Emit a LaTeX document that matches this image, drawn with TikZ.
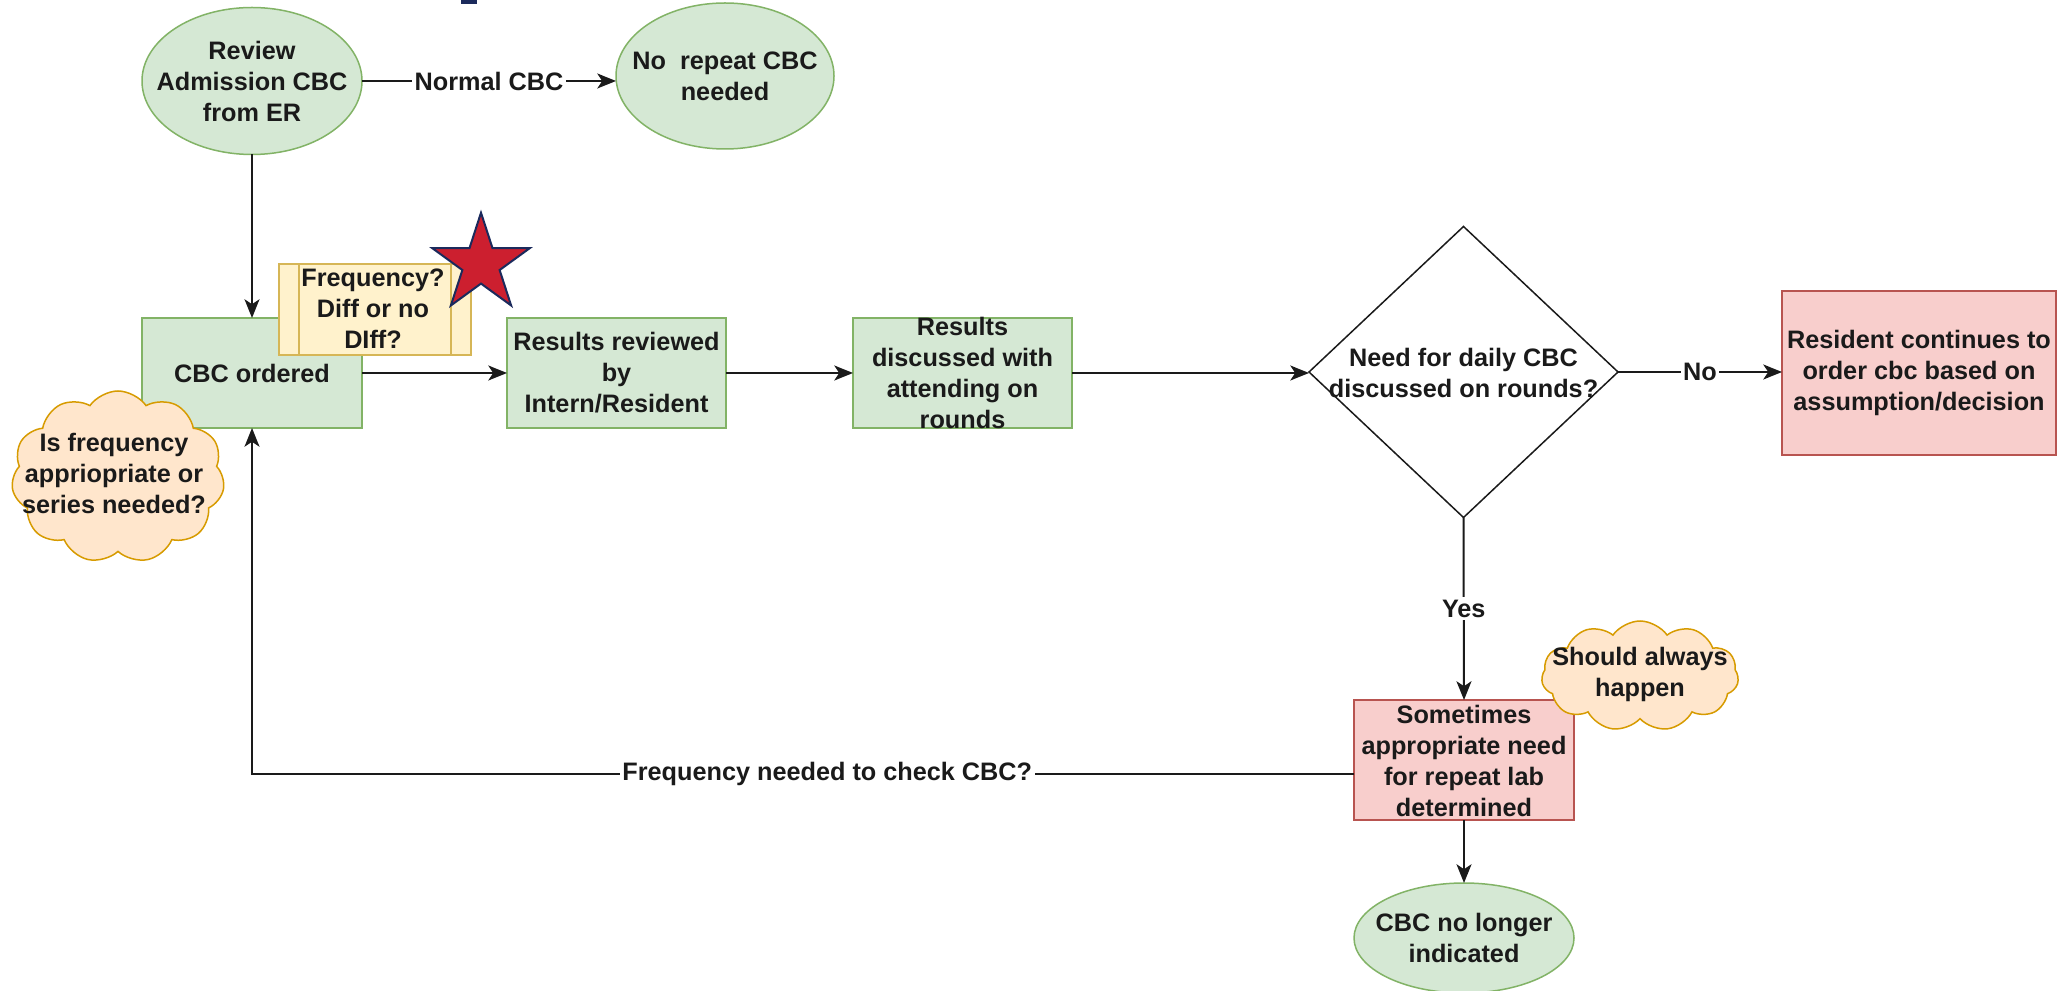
\documentclass[tikz,border=0pt]{standalone}
\usepackage{fontspec}
\setmainfont{Liberation Sans}
\usetikzlibrary{shapes.geometric,shapes.symbols,arrows.meta,calc}
\definecolor{gfill}{HTML}{D5E8D4}
\definecolor{gline}{HTML}{82B366}
\definecolor{rfill}{HTML}{F8CECC}
\definecolor{rline}{HTML}{B85450}
\definecolor{yfill}{HTML}{FFF2CC}
\definecolor{yline}{HTML}{D6B656}
\definecolor{ofill}{HTML}{FFE6CC}
\definecolor{oline}{HTML}{D79B00}
\definecolor{starred}{HTML}{CC1F2F}
\definecolor{navy}{HTML}{1B2A5C}
\definecolor{ink}{HTML}{1A1A1A}
\begin{document}
\begin{tikzpicture}[x=0.4pt,y=-0.4pt,
  font=\fontsize{10.1}{12.4}\selectfont\bfseries,
  shp/.style={inner sep=0pt, outer sep=0pt, line width=0.6pt},
  gbox/.style={shp, rectangle, draw=gline, fill=gfill},
  rbox/.style={shp, rectangle, draw=rline, fill=rfill},
  ybox/.style={shp, rectangle, draw=yline, fill=yfill},
  gell/.style={shp, ellipse, draw=gline, fill=gfill},
  ocloud/.style={shp, cloud, cloud puffs=11, cloud puff arc=110, cloud ignores aspect, draw=oline, fill=ofill},
  decbox/.style={shp, diamond, draw=ink, fill=white},
  starshape/.style={shp, star, star points=5, star point ratio=2.618, draw=navy, fill=starred, line width=0.8pt},
  txt/.style={align=center, inner sep=0pt, text=ink},
  lbl/.style={fill=white, inner sep=1pt, text=ink},
  arr/.style={draw=ink, line width=0.8pt, -{Stealth[length=7.5pt,width=6pt,inset=2pt]}}
]
\fill[white] (0,0) rectangle (2064,991);
\useasboundingbox (0,0) rectangle (2064,991);
% title fragment at top edge
\fill[navy] (461,0) rectangle (477,4);

% shapes
\node[gell, minimum width=88pt, minimum height=58.8pt] (review) at (252,81) {};
\node[gell, minimum width=87.2pt, minimum height=58.4pt] (norep) at (725,76) {};
\node[gbox, minimum width=88pt, minimum height=44pt] (cbc) at (252,373) {};
\node[gbox, minimum width=87.6pt, minimum height=44pt] (rev) at (616.5,373) {};
\node[gbox, minimum width=87.6pt, minimum height=44pt] (disc) at (962.5,373) {};
\node[decbox, minimum width=123.6pt, minimum height=116.4pt] (dec) at (1463.5,372) {};
\node[rbox, minimum width=109.6pt, minimum height=65.6pt] (res) at (1919,373) {};
\node[rbox, minimum width=88pt, minimum height=48pt] (some) at (1464,760) {};
\node[gell, minimum width=88pt, minimum height=44pt] (nolonger) at (1464,938) {};
\node[ybox, minimum width=76.8pt, minimum height=36.4pt] (note) at (375,309.5) {};
\draw[yline, line width=0.6pt] ([xshift=8pt]note.north west) -- ([xshift=8pt]note.south west);
\draw[yline, line width=0.6pt] ([xshift=-8pt]note.north east) -- ([xshift=-8pt]note.south east);
\node[starshape, minimum size=41pt] (star) at (481,264) {};
\node[ocloud, minimum width=85.2pt, minimum height=68.8pt] (isfreq) at (118,477) {};
\node[ocloud, minimum width=78.8pt, minimum height=44pt] (always) at (1640,676) {};

% texts
\node[txt] (reviewT) at (review.center) {Review\\Admission CBC\\from ER};
\node[txt] (norepT) at (norep.center) {No\ \ repeat CBC\\needed};
\node[txt] (cbcT) at (cbc.center) {CBC ordered};
\node[txt] (noteT) at (373,309) {Frequency?\\Diff or no\\DIff?};
\node[txt] (revT) at (rev.center) {Results reviewed\\by\\Intern/Resident};
\node[txt] (discT) at (disc.center) {Results\\discussed with\\attending on\\rounds};
\node[txt] (decT) at (1463.5,373) {Need for daily CBC\\discussed on rounds?};
\node[txt] (resT) at (res.center) {Resident continues to\\order cbc based on\\assumption/decision};
\node[txt] (someT) at (1464,761) {Sometimes\\appropriate need\\for repeat lab\\determined};
\node[txt] (alwaysT) at (1640,674) {Should always\\happen};
\node[txt] (nolongerT) at (nolonger.center) {CBC no longer\\indicated};
\node[txt] (isfreqT) at (114,473) {Is frequency\\appriopriate or\\series needed?};

% connectors
\draw[arr] (review.east) -- node[lbl]{Normal CBC} (review.east -| norep.west);
\draw[arr] (review.south) -- (cbc.north);
\draw[arr] (cbc.east) -- (rev.west);
\draw[arr] (rev.east) -- (disc.west);
\draw[arr] (disc.east) -- (disc.east -| dec.west);
\draw[arr] (dec.east) -- node[lbl]{No} (dec.east -| res.west);
\draw[arr] (dec.south) -- node[lbl]{Yes} (some.north);
\draw[arr] (some.south) -- (nolonger.north);
\draw[arr] ([yshift=-5.6pt]some.west) -| node[lbl,pos=0.239]{Frequency needed to check CBC?} (cbc.south);
\end{tikzpicture}
\end{document}
